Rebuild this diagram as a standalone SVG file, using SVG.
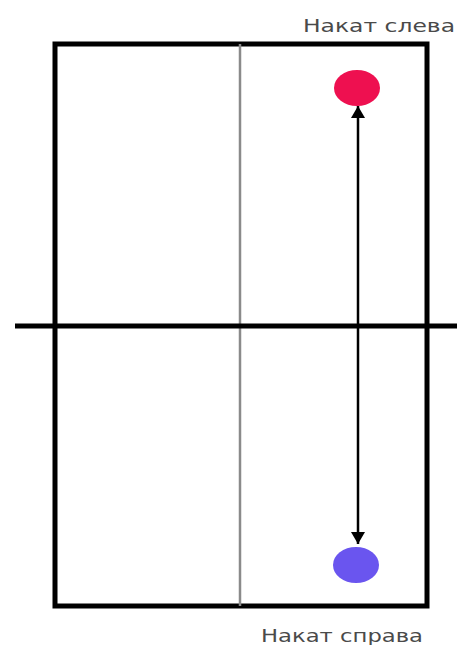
<svg xmlns="http://www.w3.org/2000/svg" width="457" height="645" viewBox="0 0 457 645">
<defs>
<style>
.lbl{font-family:"DejaVu Sans",Verdana,sans-serif;font-size:18px;fill:#4a4a4a}
.frame{fill:none;stroke:#000;stroke-width:5}
</style>
<marker id="ah" viewBox="0 0 12 14" refX="12" refY="7" markerWidth="12" markerHeight="14" markerUnits="userSpaceOnUse" orient="auto">
<path d="M0,0 L12,7 L0,14 Z" fill="#000"/>
</marker>
</defs>
<rect width="457" height="645" fill="#fff"/>
<g id="table">
<rect class="frame" x="55" y="44" width="372" height="562"/>
<line x1="240" y1="44" x2="240" y2="606" stroke="#8a8a8a" stroke-width="2.5"/>
<line x1="15" y1="326" x2="457" y2="326" stroke="#000" stroke-width="5"/>
</g>
<g id="ball-top">
<ellipse cx="357" cy="88" rx="23" ry="18" fill="#ee1050"/>
</g>
<g id="ball-bottom">
<ellipse cx="356" cy="565" rx="23" ry="18" fill="#6a55ef"/>
</g>
<g id="connectors">
<line x1="358" y1="320" x2="358" y2="106" stroke="#000" stroke-width="2.5" marker-end="url(#ah)"/>
<line x1="358" y1="320" x2="358" y2="544" stroke="#000" stroke-width="2.5" marker-end="url(#ah)"/>
</g>
<g id="labels">
<text class="lbl" x="303" y="32" textLength="152" lengthAdjust="spacingAndGlyphs">Накат слева</text>
<text class="lbl" x="261" y="642" textLength="162" lengthAdjust="spacingAndGlyphs">Накат справа</text>
</g>
</svg>
